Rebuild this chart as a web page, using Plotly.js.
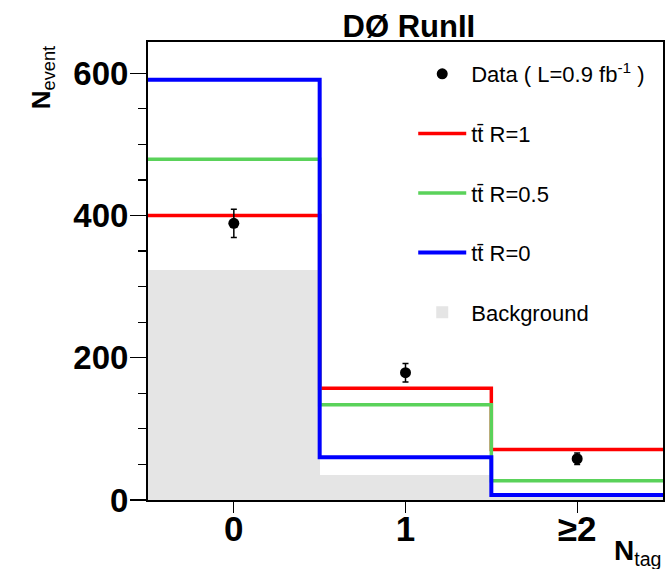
<!DOCTYPE html>
<html>
<head>
<meta charset="utf-8">
<script src="https://cdn.plot.ly/plotly-3.0.1.min.js"></script>
<style>html,body{margin:0;padding:0;background:#fff;}#chart{width:667px;height:569px;}</style>
</head>
<body>
<div id="chart"></div>
<script>
// ---- data ----
const nTag = [0, 1, 2];
const tickLabels = ['0', '1', '≥2'];
const background = [323, 35, 4];
const ttR1 = [400, 157, 71];
const ttR05 = [479, 134, 27];
const ttR0 = [591, 60, 7];
const dataVals = [389, 179, 58];
const dataErr = [20, 13, 8];

// step-histogram outline built from bin centres (bin width 1)
function stepX(c) { const e = c.map(v => v - 0.5); e.push(c[c.length - 1] + 0.5); return e; }
function stepY(v) { const y = v.slice(); y.push(v[v.length - 1]); return y; }

const FONT = 'Liberation Sans, Arial, Helvetica, sans-serif';

const traces = [
  {type: 'bar', x: nTag, y: background, width: 1, name: 'Background',
   marker: {color: '#e5e5e5', line: {width: 0}}, legendgroup: 'g5', legendrank: 5, hoverinfo: 'skip'},
  {type: 'scatter', mode: 'lines', x: stepX(nTag), y: stepY(ttR1), name: 'tt̄ R=1',
   line: {color: '#ff0000', width: 3.5, shape: 'hv'}, legendgroup: 'g2', legendrank: 2},
  {type: 'scatter', mode: 'lines', x: stepX(nTag), y: stepY(ttR05), name: 'tt̄ R=0.5',
   line: {color: '#5ad25a', width: 3.5, shape: 'hv'}, legendgroup: 'g3', legendrank: 3},
  {type: 'scatter', mode: 'lines', x: stepX(nTag), y: stepY(ttR0), name: 'tt̄ R=0',
   line: {color: '#0000ff', width: 4, shape: 'hv'}, legendgroup: 'g4', legendrank: 4},
  {type: 'scatter', mode: 'markers', x: nTag, y: dataVals, name: 'Data ( L=0.9 fb<sup>-1</sup> )',
   marker: {color: '#000', size: 11},
   error_y: {type: 'data', array: dataErr, visible: true, color: '#000', thickness: 1.5, width: 3},
   legendgroup: 'g1', legendrank: 1}
];

const layout = {
  width: 667, height: 569,
  margin: {l: 148, r: 4, t: 42, b: 69},
  paper_bgcolor: '#fff', plot_bgcolor: '#fff',
  showlegend: true,
  bargap: 0,
  title: {text: '<b>DØ RunII</b>', x: 0.613, xanchor: 'center', y: 0.954, yanchor: 'middle',
          font: {family: FONT, size: 31, color: '#000'}},
  xaxis: {range: [-0.5, 2.5], tickvals: nTag, ticktext: tickLabels,
          ticks: 'outside', ticklen: 11, tickwidth: 1.2, tickcolor: '#000',
          ticklabelstandoff: -14,
          showline: true, linecolor: '#000', linewidth: 2, mirror: true,
          showgrid: false, zeroline: false,
          tickfont: {family: FONT, size: 35, color: '#000', weight: 'bold'}},
  yaxis: {range: [0, 644], tickvals: [0, 200, 400, 600],
          ticks: 'outside', ticklen: 16, tickwidth: 1.2, tickcolor: '#000',
          ticklabelstandoff: -5,
          minor: {dtick: 50, ticks: 'outside', ticklen: 8, tickwidth: 1.2, tickcolor: '#000', showgrid: false},
          showline: true, linecolor: '#000', linewidth: 2, mirror: true,
          showgrid: false, zeroline: false,
          tickfont: {family: FONT, size: 33, color: '#000', weight: 'bold'}},
  legend: {x: 0.515, y: 0.976, xanchor: 'left', yanchor: 'top', bgcolor: 'rgba(0,0,0,0)',
           itemwidth: 48,
           font: {family: FONT, size: 22, color: '#000'}, tracegroupgap: 28, traceorder: 'grouped'},
  annotations: [
    {xref: 'paper', yref: 'paper', x: -0.205, y: 0.995, xanchor: 'center', yanchor: 'top',
     text: '<b>N</b><sub>event</sub>', textangle: -90, showarrow: false,
     font: {family: FONT, size: 26, color: '#000'}},
    {xref: 'paper', yref: 'paper', x: 1.0, y: -0.072, xanchor: 'right', yanchor: 'top',
     text: '<b>N</b><sub>tag</sub>', showarrow: false,
     font: {family: FONT, size: 28, color: '#000'}}
  ]
};

Plotly.newPlot('chart', traces, layout, {displayModeBar: false, staticPlot: true});
</script>
</body>
</html>
